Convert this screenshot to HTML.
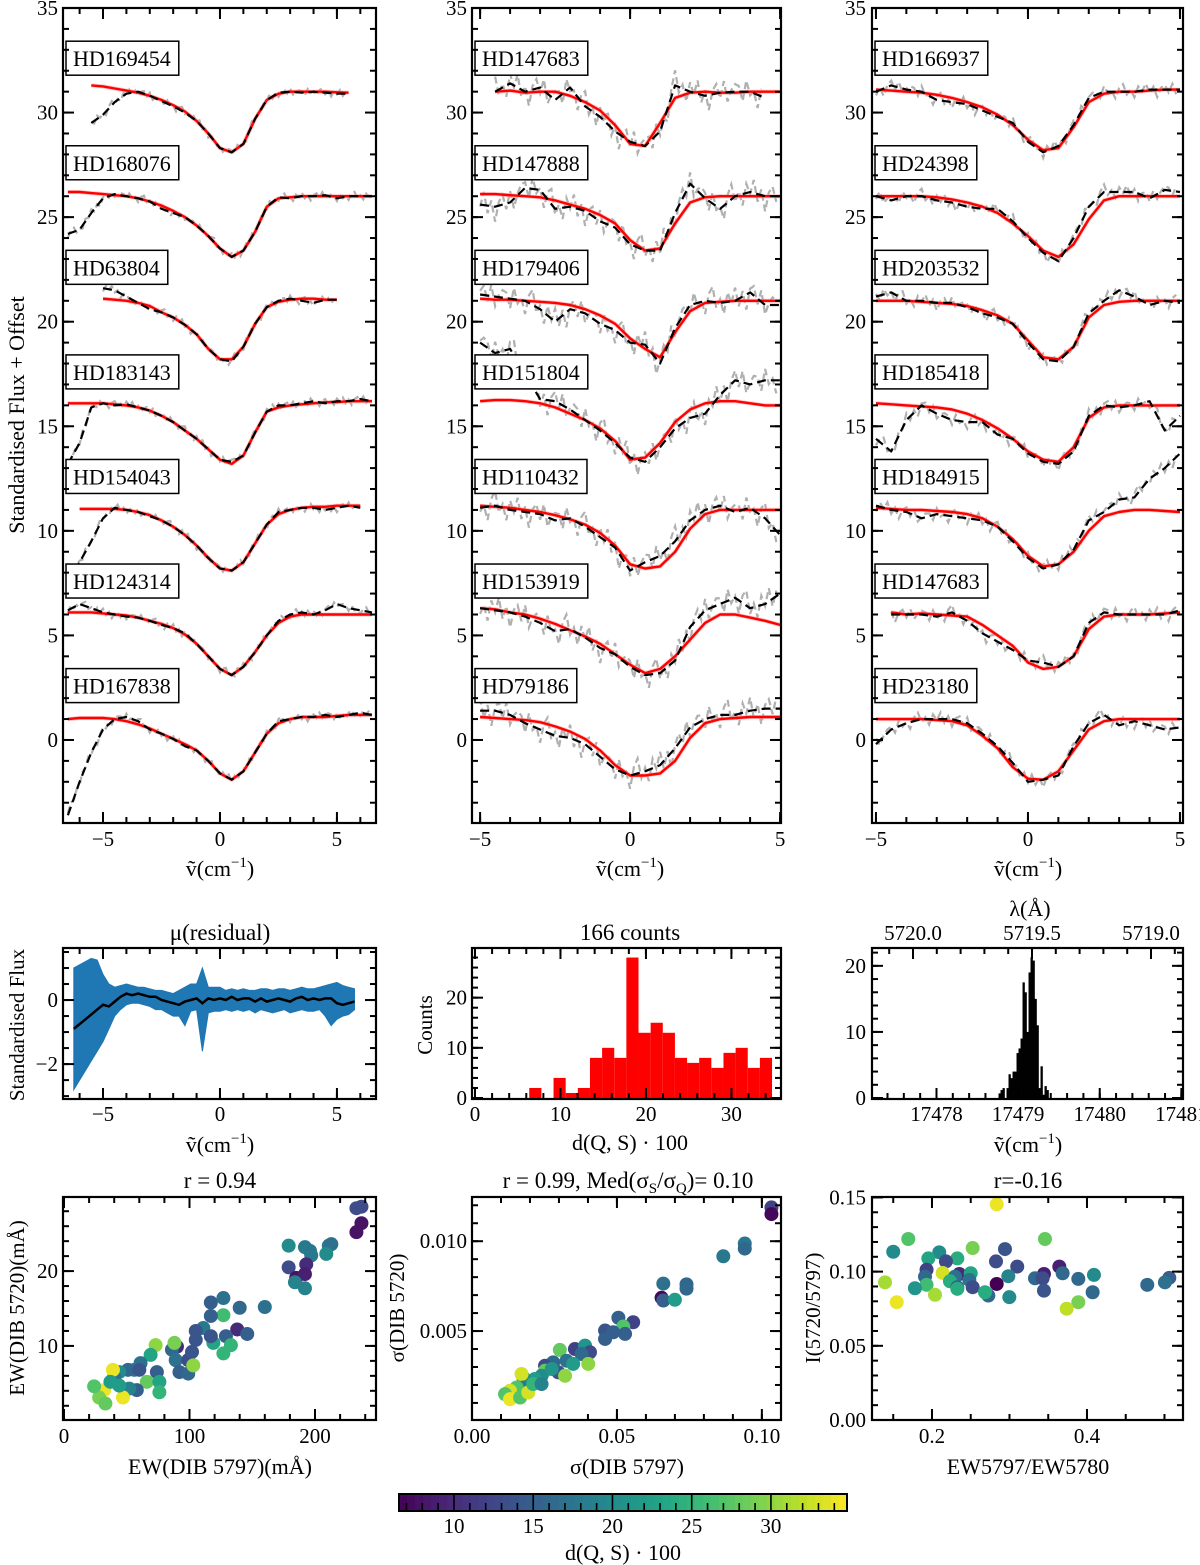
<!DOCTYPE html>
<html><head><meta charset="utf-8"><title>DIB 5720 figure</title>
<style>
html,body{margin:0;padding:0;background:#fff;}
svg{display:block;font-family:"Liberation Serif",serif;}
text{fill:#000;}
</style></head>
<body>
<svg id="fig" width="1200" height="1565" viewBox="0 0 1200 1565">
<rect x="0" y="0" width="1200" height="1565" fill="#fff"/>
<g id="layer"></g>
<text x="24" y="415" font-size="22" text-anchor="middle" transform="rotate(-90 24 415)">Standardised Flux + Offset</text>
<text x="220" y="876" font-size="22" text-anchor="middle">ṽ(cm<tspan font-size="15" dy="-9">−1</tspan><tspan dy="9">)</tspan></text>
<text x="630" y="876" font-size="22" text-anchor="middle">ṽ(cm<tspan font-size="15" dy="-9">−1</tspan><tspan dy="9">)</tspan></text>
<text x="1028" y="876" font-size="22" text-anchor="middle">ṽ(cm<tspan font-size="15" dy="-9">−1</tspan><tspan dy="9">)</tspan></text>
<text x="220" y="940" font-size="23" text-anchor="middle">μ(residual)</text>
<text x="630" y="940" font-size="23" text-anchor="middle">166 counts</text>
<text x="1030" y="916" font-size="22" text-anchor="middle">λ(Å)</text>
<text x="24" y="1025" font-size="21" text-anchor="middle" transform="rotate(-90 24 1025)">Standardised Flux</text>
<text x="432" y="1025" font-size="21" text-anchor="middle" transform="rotate(-90 432 1025)">Counts</text>
<text x="220" y="1152" font-size="22" text-anchor="middle">ṽ(cm<tspan font-size="15" dy="-9">−1</tspan><tspan dy="9">)</tspan></text>
<text x="630" y="1150" font-size="22" text-anchor="middle">d(Q, S) · 100</text>
<text x="1028" y="1152" font-size="22" text-anchor="middle">ṽ(cm<tspan font-size="15" dy="-9">−1</tspan><tspan dy="9">)</tspan></text>
<text x="220" y="1188" font-size="23" text-anchor="middle">r =  0.94</text>
<text x="628" y="1188" font-size="23" text-anchor="middle">r =  0.99, Med(σ<tspan font-size="15" dy="5">S</tspan><tspan dy="-5">/σ</tspan><tspan font-size="15" dy="5">Q</tspan><tspan dy="-5">)= 0.10</tspan></text>
<text x="1028" y="1188" font-size="23" text-anchor="middle">r=-0.16</text>
<text x="24" y="1308" font-size="21" text-anchor="middle" transform="rotate(-90 24 1308)">EW(DIB 5720)(mÅ)</text>
<text x="404" y="1308" font-size="21" text-anchor="middle" transform="rotate(-90 404 1308)">σ(DIB 5720)</text>
<text x="820" y="1308" font-size="21" text-anchor="middle" transform="rotate(-90 820 1308)">I(5720/5797)</text>
<text x="220" y="1474" font-size="22" text-anchor="middle">EW(DIB 5797)(mÅ)</text>
<text x="627" y="1474" font-size="22" text-anchor="middle">σ(DIB 5797)</text>
<text x="1028" y="1474" font-size="22" text-anchor="middle">EW5797/EW5780</text>
<text x="623" y="1560" font-size="22" text-anchor="middle">d(Q, S) · 100</text>
</svg>
<script>
// ===== spectra data (relative to offset) =====
const col1Names = ["HD169454","HD168076","HD63804","HD183143","HD154043","HD124314","HD167838"];
const col2Names = ["HD147683","HD147888","HD179406","HD151804","HD110432","HD153919","HD79186"];
const col3Names = ["HD166937","HD24398","HD203532","HD185418","HD184915","HD147683","HD23180"];
const offsets = [30,25,20,15,10,5,0];
const n = null;
const col1Red = [
[n,n,1.3,1.25,1.15,1.05,.95,.8,.6,.35,.05,-.4,-1.0,-1.7,-1.9,-1.5,-.3,.6,.9,1,1,1,1,.97,.95,n,n],
[1.2,1.2,1.15,1.1,1.05,1.0,.9,.75,.55,.3,0,-.4,-.9,-1.5,-1.9,-1.6,-.7,.5,.9,.95,1,1,1,1,1,1,1],
[n,n,n,1.1,1.05,1.0,.9,.75,.45,.2,-.15,-.6,-1.3,-1.8,-1.8,-1.2,-.1,.7,.95,1.05,1.1,1.1,1.05,1.05,n,n,n],
[1.1,1.1,1.1,1.1,1.05,1.0,.9,.75,.5,.2,-.2,-.6,-1.1,-1.6,-1.8,-1.4,-.3,.7,.9,1.0,1.05,1.1,1.15,1.15,1.2,1.2,1.2],
[n,1.05,1.05,1.05,1.05,1.0,.9,.75,.5,.2,-.2,-.7,-1.3,-1.8,-1.9,-1.5,-.6,.3,.8,1.0,1.1,1.15,1.15,1.2,1.2,1.2,n],
[1.1,1.1,1.1,1.05,1.0,.95,.85,.7,.55,.35,.05,-.4,-1.0,-1.6,-1.9,-1.5,-.8,0,.6,.9,1.0,1.0,1.0,1.0,1.0,1.0,1.0],
[1.0,1.05,1.05,1.05,1.0,.9,.75,.55,.3,.05,-.2,-.5,-1.0,-1.6,-1.9,-1.5,-.6,.3,.8,1.0,1.1,1.1,1.1,1.15,1.2,1.2,1.2]];
const col1Black = [
[n,n,-.5,-.1,.5,.9,1.0,.8,.55,.3,0,-.4,-1.0,-1.7,-1.9,-1.5,-.3,.6,.95,1.0,.95,1.0,.95,.9,.9,n,n],
[-.8,-.6,.2,.9,1.1,1.0,.9,.75,.4,.2,0,-.4,-.9,-1.5,-1.9,-1.6,-.7,.5,.95,.9,1,1,1.05,.9,1,1,1],
[n,n,n,1.6,1.5,1.2,.9,.6,.45,.2,-.15,-.6,-1.3,-1.8,-1.9,-1.2,-.1,.7,1.0,1.1,1.0,.9,1.05,1.05,n,n,n],
[-1.8,-.8,.9,1.1,1.0,1.05,.9,.75,.5,.2,-.2,-.6,-1.1,-1.6,-1.7,-1.4,-.3,.7,1.0,1.0,1.1,1.2,1.1,1.2,1.2,1.3,1.2],
[-2.5,-1.5,-.5,.6,1.1,1.0,.9,.7,.5,.2,-.2,-.7,-1.3,-1.8,-1.9,-1.5,-.6,.3,.9,1.0,1.1,1.1,1.0,1.1,1.2,1.1,n],
[1.2,1.5,1.3,1.1,1.0,.9,.85,.7,.5,.35,.1,-.4,-1.0,-1.6,-1.9,-1.5,-.8,0,.7,1.0,1.1,1.0,1.2,1.5,1.3,1.2,1.1],
[-3.6,-2.0,-.6,.5,1.0,1.1,.9,.5,.3,.05,-.3,-.5,-1.0,-1.6,-1.9,-1.5,-.6,.3,.9,1.0,1.1,1.1,1.2,1.1,1.2,1.3,1.2]];
const col2Red = [
[n,1.0,1.05,.95,1.0,1.0,.8,.5,.1,-.6,-1.5,-1.6,-.5,.7,.95,1.0,.95,.95,1.0,1.0,1.0],
[1.1,1.1,1.05,1.0,.95,.8,.6,.4,.1,-.3,-1.1,-1.6,-1.5,-.3,.7,.95,1.0,1.0,1.0,1.0,1.0],
[1.1,1.05,1.05,1.0,.95,.9,.8,.6,.3,-.1,-.8,-1.3,-1.7,-.5,.5,.9,.95,1.0,1.0,1.0,1.0],
[1.2,1.25,1.25,1.2,1.1,.9,.6,.3,-.1,-.7,-1.6,-1.5,-.8,.2,.8,1.1,1.2,1.2,1.1,1.0,1.0],
[1.2,1.15,1.1,1.0,.9,.75,.55,.3,-.1,-.7,-1.6,-1.8,-1.7,-1.0,.1,.8,1.0,1.0,1.0,1.0,1.0],
[1.3,1.25,1.1,1.0,.8,.55,.25,-.05,-.4,-.9,-1.4,-1.8,-1.6,-1.0,-.2,.6,1.0,1.0,.85,.7,.5],
[1.1,1.05,1.0,.95,.85,.65,.4,.05,-.5,-1.2,-1.7,-1.7,-1.6,-1.0,.1,.8,1.0,1.05,1.1,1.1,1.1]];
const col2Black = [
[n,1.0,1.4,1.0,1.2,.6,1.2,.3,-.2,-.9,-1.4,-1.6,-.9,1.3,1.0,.8,.95,1.0,1.0,.7,n],
[.6,.5,.7,1.4,1.3,.4,.5,.3,-.2,-.5,-1.3,-1.6,-1.6,.2,1.6,.9,.4,1.0,1.2,1.0,1.0],
[1.3,1.2,1.1,1.0,.6,0,.6,.4,-.1,-.4,-1.0,-1.1,-2.0,-.3,.8,1.0,.9,1.0,1.4,.8,.8],
[4,3.5,3.7,2.5,1.3,1.2,.8,.3,-.2,-.8,-1.5,-1.7,-1.0,-.1,.4,.6,1.5,2.2,2.0,2.2,2.2],
[1.1,1.2,1.0,.9,.8,.5,.6,.2,-.3,-.8,-1.9,-1.5,-1.2,-.5,.5,1.0,1.2,.9,1.1,.6,-.2],
[1.3,1.2,1.1,.9,.6,.2,.3,-.1,-.6,-.9,-1.5,-1.9,-1.8,-1.2,.4,1.2,1.5,1.8,1.3,1.5,2.0],
[1.4,1.4,1.2,.8,.5,.2,.1,-.2,-.8,-1.4,-1.7,-1.5,-1.2,-.4,.6,1.0,1.2,1.2,1.4,1.5,1.5]];
const col3Red = [
[1.1,1.05,1.0,.95,.85,.7,.5,.25,-.1,-.6,-1.3,-1.8,-1.7,-.7,.5,.9,1.0,1.0,1.05,1.1,1.1],
[1.0,1.0,1.0,1.0,.95,.85,.7,.5,.2,-.3,-.9,-1.6,-1.9,-1.3,-.1,.8,1.0,1.0,1.0,1.0,1.0],
[1.0,1.0,1.0,.95,.9,.85,.75,.55,.3,-.1,-.9,-1.7,-1.8,-1.2,.2,.8,.95,1.0,1.0,1.0,1.0],
[1.1,1.05,1.0,.95,.9,.8,.6,.3,-.1,-.6,-1.2,-1.6,-1.7,-1.0,.4,.9,1.0,1.0,1.0,1.0,1.0],
[1.1,1.05,1.0,1.0,.95,.9,.8,.6,.2,-.4,-1.2,-1.7,-1.6,-1.0,0,.7,.9,1.0,1.0,.95,.9],
[n,1.1,1.0,1.05,1.0,.95,.9,.5,.0,-.5,-1.3,-1.6,-1.5,-1.0,.3,.9,1.0,1.0,1.0,1.05,1.1],
[1.0,1.0,1.0,1.0,.95,.9,.7,.2,-.4,-1.3,-1.85,-1.9,-1.5,-.5,.5,.9,1.0,1.0,1.0,1.0,1.0]];
const col3Black = [
[1.0,1.3,1.1,1.0,.6,.5,.4,.1,-.2,-.5,-1.4,-1.9,-1.6,-.6,.7,1.0,1.0,1.0,1.1,1.1,1.1],
[1.0,.8,1.0,1.0,.8,.7,.5,.4,.4,-.2,-1.0,-1.7,-2.1,-1.0,.5,1.2,1.2,1.2,.9,1.3,1.2],
[1.2,1.4,1.0,1.0,.9,.9,.7,.4,.2,-.1,-1.0,-1.8,-1.9,-1.2,.4,1.0,1.5,1.2,.8,1.0,.9],
[-.6,-1.2,.3,1.0,.6,.3,.2,.2,-.4,-.6,-1.3,-1.7,-1.8,-1.2,.5,1.0,.9,1.0,1.2,-.2,.5],
[1.2,1.0,.9,.6,.8,.7,.6,.5,.2,-.5,-1.3,-1.8,-1.6,-.9,.5,.9,1.5,1.6,2.5,3.0,3.7],
[n,1.0,1.0,1.0,.9,1.1,.7,.1,-.3,-.7,-1.2,-1.3,-1.5,-1.0,.6,1.1,1.0,1.0,1.0,1.0,1.2],
[-.2,.5,.8,1.0,1.0,1.0,.8,.3,-.3,-1.1,-2.0,-1.9,-1.7,-.3,.8,1.2,.7,.9,.7,.5,.6]];
const grayJitter = [0.3,-0.5,0.6,-0.2,0.1,-0.7,0.4,0.8,-0.3,0.2,-0.6,0.5,-0.1,0.7,-0.4,0.3,-0.8,0.2,0.5,-0.3,0.6,-0.5,0.1,0.4];
// ===== residual data (x from -6.25 step 0.25) =====
const resMean = [-0.9,-0.75,-0.6,-0.45,-0.3,-0.15,-0.2,-0.05,0.1,0.2,0.15,0.2,0.15,0.1,0.1,0.0,-0.05,-0.1,-0.15,-0.05,0.0,0.05,-0.1,0.05,0.0,0.05,0.0,0.1,0.0,0.05,0.05,-0.05,0.05,-0.05,0.0,0.05,0.0,-0.05,0.05,0.1,0.0,0.05,0.0,0.05,0.05,-0.1,-0.15,-0.1,-0.05];
const resUpper = [1.0,1.1,1.2,1.3,1.25,0.8,0.5,0.4,0.45,0.5,0.45,0.4,0.4,0.35,0.3,0.3,0.25,0.2,0.3,0.4,0.5,0.5,1.0,0.4,0.4,0.4,0.3,0.35,0.3,0.35,0.3,0.3,0.35,0.35,0.3,0.35,0.35,0.3,0.35,0.4,0.35,0.35,0.4,0.45,0.5,0.55,0.45,0.4,0.35];
const resLower = [-2.8,-2.5,-2.2,-1.9,-1.6,-1.3,-0.9,-0.5,-0.3,-0.15,-0.1,-0.1,-0.15,-0.2,-0.3,-0.3,-0.4,-0.5,-0.5,-0.8,-0.35,-0.3,-1.6,-0.4,-0.35,-0.35,-0.3,-0.35,-0.3,-0.35,-0.3,-0.4,-0.3,-0.35,-0.4,-0.35,-0.3,-0.4,-0.35,-0.3,-0.35,-0.35,-0.3,-0.5,-0.8,-0.6,-0.5,-0.45,-0.3];
// ===== histogram of d(Q,S) =====
const histStart = 6.35, histWidth = 1.42;
const histCounts = [2,0,4,1,2,8,10,8,28,13,15,13,8,7,8,6,9,10,6,8];
// ===== histogram of peak positions =====
const peakStart = 17478.76, peakWidth = 0.0245;
const peakCounts = [0.7,1.2,1.5,0,1.5,3.6,3,4,4,6.8,7.5,9,17.5,16,10,19,21.3,20.8,15,11,1.5,4.8,0.5,1.8,1.2];
// ===== scatter data =====
const sc1X = [237,233,237,233,179,192,196,197,211,213,209,179,193,185,192,184,192,117,127,140,160,127,117,111,105,138,146,129,119,133,127,105,117,90,86,89,99,102,92,99,103,88,73,69,61,56,51,44,40,39,60,74,66,76,58,52,47,32,28,24,33,44,76,37];
const sc1Y = [28.6,28.4,26.4,25.2,23.4,23.2,22.7,22.1,23.4,23.6,22.3,20.5,20.9,19.1,19.6,18.5,17.7,15.8,16.4,15.1,15.2,14.1,14.0,12.4,12.0,12.2,11.6,11.3,10.4,10.1,9.0,10.8,11.3,9.9,9.5,8.1,8.1,9.2,6.5,6.3,7.4,10.4,10.1,8.8,7.7,6.8,6.8,6.5,5.9,6.8,6.8,6.5,5.2,5.2,4.1,4.3,3.1,4.1,3.1,4.6,2.3,4.7,3.8,5.2];
const sc1C = [13,13,8,8,20,18,18,18,18,17,20,13,10,8,9,19,19,15,17,16,17,26,15,18,14,10,15,15,23,25,25,14,14,10,16,17,13,14,15,16,30,29,30,23,17,18,16,20,17,34,14,15,28,23,15,19,34,34,29,27,28,22,25,22];
const sc2X = [.1033,.1033,.0941,.0941,.0867,.066,.074,.074,.0654,.066,.070,.0505,.0556,.0522,.0459,.0487,.0528,.0459,.0355,.039,.0407,.0303,.0378,.0401,.0326,.0349,.028,.0252,.0298,.0321,.0252,.024,.0217,.0177,.0171,.0177,.0154,.0131,.0114,.0131,.0166,.0194,.0211,.024,.0275];
const sc2Y = [.01188,.01151,.00987,.00959,.00916,.00764,.0076,.00736,.00685,.0067,.00674,.00574,.00549,.00525,.00503,.00493,.00484,.00456,.004,.00419,.00382,.00395,.00372,.00317,.00335,.00317,.00326,.00307,.0027,.00251,.00279,.00251,.00233,.00242,.00261,.00186,.00186,.00168,.00149,.00121,.0013,.00158,.00205,.00205,.00289];
const sc2C = [12,7,18,16,18,17,16,16,7,15,22,15,12,27,14,15,15,15,12,21,13,28,16,30,17,22,16,13,14,30,28,20,22,20,33,18,27,33,27,34,27,33,25,19,21];
const sc3X = [.2835,.1694,.3458,.150,.2094,.2942,.2525,.1953,.2327,.218,.2826,.310,.3643,.193,.2138,.2353,.250,.3445,.3686,.409,.2985,.3329,.3428,.3888,.1394,.191,.2297,.2482,.2232,.2835,.5062,.5006,.4778,.193,.178,.2327,.2327,.2525,.2727,.2684,.2998,.3445,.4073,.2039,.1545,.3888,.3738];
const sc3Y = [.1454,.122,.122,.1134,.113,.1152,.1159,.1089,.1089,.1069,.1069,.1034,.1034,.1013,.0991,.0984,.0989,.0984,.0989,.0978,.0969,.0955,.0955,.0951,.0928,.0966,.0966,.0944,.0935,.0917,.0958,.0928,.0911,.0911,.0888,.0895,.0884,.0895,.0839,.0861,.0828,.0872,.0861,.0844,.0794,.0794,.075];
const sc3C = [34,27,28,20,20,14,29,23,24,13,13,13,9,12,33,10,23,9,16,20,19,16,13,16,31,16,17,17,24,5,15,17,16,26,21,15,24,13,16,24,20,14,16,31,34,29,32];
// ===== colorbar =====
const cbMin = 6.53, cbMax = 34.8;
const cbTicks = [10,15,20,25,30];

const svg = document.getElementById('fig');
const layer = document.getElementById('layer');
const NS = svg.namespaceURI;
function mk(parent, tag, attrs){
  const e = document.createElementNS(NS, tag);
  for (const k in attrs) e.setAttribute(k, attrs[k]);
  parent.appendChild(e);
  return e;
}
function panel(x0,y0,x1,y1,xmin,xmax,ymin,ymax){
  return {x0,y0,x1,y1,xmin,xmax,ymin,ymax,
    sx:v=>x0+(v-xmin)/(xmax-xmin)*(x1-x0),
    sy:v=>y1-(v-ymin)/(ymax-ymin)*(y1-y0)};
}
let clipN = 0;
function clip(p){
  clipN++;
  const cp = mk(layer,'clipPath',{id:'c'+clipN});
  mk(cp,'rect',{x:p.x0,y:p.y0,width:p.x1-p.x0,height:p.y1-p.y0});
  const g = mk(layer,'g',{'clip-path':'url(#c'+clipN+')'});
  
  
  return g;
}
function frame(p){
  const r = mk(layer,'rect',{x:p.x0,y:p.y0,width:p.x1-p.x0,height:p.y1-p.y0,fill:'none',stroke:'#000','stroke-width':2.2});
  
  
}
function fmtNum(v,d){ const s=v.toFixed(d); return s.replace('-','−'); }
function xTicks(p,step,len,top,bottom,labelDec,labelY){
  const i0 = Math.ceil(p.xmin/step-1e-6), i1 = Math.floor(p.xmax/step+1e-6);
  for (let i=i0;i<=i1;i++){
    const v=i*step, x=p.sx(v);
    if (bottom){
      const t = mk(layer,'line',{x1:x,x2:x,y1:p.y1,y2:p.y1-len,stroke:'#000','stroke-width':2});
      
      
    }
    if (top){
      const t2 = mk(layer,'line',{x1:x,x2:x,y1:p.y0,y2:p.y0+len,stroke:'#000','stroke-width':2});
      
      
    }
    if (labelDec!==undefined && labelDec!==null){
      const tx = mk(layer,'text',{x:x,y:labelY,'font-size':21,'text-anchor':'middle'});
      tx.textContent = fmtNum(v,labelDec);
      
      
    }
  }
}
function yTicks(p,step,len,labelDec,labelX){
  const i0 = Math.ceil(p.ymin/step-1e-6), i1 = Math.floor(p.ymax/step+1e-6);
  for (let i=i0;i<=i1;i++){
    const v=i*step, y=p.sy(v);
    const t = mk(layer,'line',{x1:p.x0,x2:p.x0+len,y1:y,y2:y,stroke:'#000','stroke-width':2});
    
    
    const t2 = mk(layer,'line',{x1:p.x1,x2:p.x1-len,y1:y,y2:y,stroke:'#000','stroke-width':2});
    
    
    if (labelDec!==undefined && labelDec!==null){
      const tx = mk(layer,'text',{x:labelX,y:y+7,'font-size':21,'text-anchor':'end'});
      tx.textContent = fmtNum(v,labelDec);
      
      
    }
  }
}
function pathFrom(p, xs, ys){
  let d='', pen=false;
  for (let i=0;i<xs.length;i++){
    if (ys[i]===null){pen=false;continue;}
    d += (pen?'L':'M')+p.sx(xs[i]).toFixed(1)+','+p.sy(ys[i]).toFixed(1);
    pen=true;
  }
  return d;
}
const VIR = ['#440154','#482475','#414487','#355f8d','#2a788e','#21918c','#22a884','#44bf70','#7ad151','#bddf26','#fde725'];
function hex(c){return [1,3,5].map(i=>parseInt(c.substr(i,2),16));}
function viridis(t){
  t=Math.max(0,Math.min(1,t));
  const f=t*10, i=Math.min(9,Math.floor(f)), u=f-i;
  const a=hex(VIR[i]), b=hex(VIR[i+1]);
  return 'rgb('+a.map((v,k)=>Math.round(v+(b[k]-v)*u)).join(',')+')';
}
function cmap(v){ return viridis((v-cbMin)/(cbMax-cbMin)); }

const specPanels = [
  {p:panel(63,8,376,823,-6.71,6.67,-3.97,35), names:col1Names, red:col1Red, black:col1Black, xstart:-6.5, noise:0.25, lx:58},
  {p:panel(472,8,781,823,-5.27,5.03,-3.97,35), names:col2Names, red:col2Red, black:col2Black, xstart:-5, noise:0.9, lx:467},
  {p:panel(872,8,1183,823,-5.13,5.1,-3.97,35), names:col3Names, red:col3Red, black:col3Black, xstart:-5, noise:0.45, lx:866}
];
specPanels.forEach((sp,ci)=>{
  const p=sp.p, g=clip(p);
  sp.names.forEach((nm,k)=>{
    const off=offsets[k];
    const red=sp.red[k], blk=sp.black[k];
    const xs=red.map((_,i)=>sp.xstart+0.5*i);
    const ra=red.map(v=>v===null?null:v+off);
    const ba=blk.map(v=>v===null?null:v+off);
    const gx=[],gy=[];
    let j=0;
    for (let i=0;i<ba.length-1;i++){
      if (ba[i]===null||ba[i+1]===null) continue;
      for (let s=0;s<4;s++){
        const u=s/4;
        gx.push(xs[i]+0.5*u);
        gy.push(ba[i]+(ba[i+1]-ba[i])*u + grayJitter[(j+k*5+ci*7)%grayJitter.length]*sp.noise);
        j++;
      }
    }
    const gp = mk(g,'path',{d:pathFrom(p,gx,gy),fill:'none',stroke:'#b0b0b0','stroke-width':2.2,'stroke-dasharray':'7,4'});
    
    
    const rl = mk(g,'path',{d:pathFrom(p,xs,ra),fill:'none',stroke:'#ff9a9a','stroke-width':4,'stroke-linejoin':'round',opacity:0.6});
    
    
    const rp = mk(g,'path',{d:pathFrom(p,xs,ra),fill:'none',stroke:'#ff0000','stroke-width':2.4,'stroke-linejoin':'round'});
    
    
    const bp = mk(g,'path',{d:pathFrom(p,xs,ba),fill:'none',stroke:'#000','stroke-width':2.2,'stroke-dasharray':'9,5','stroke-linejoin':'round'});
    
    
    const cy=p.sy(off+2.6);
    const tx = mk(layer,'text',{x:p.x0+10,y:cy+8,'font-size':22});
    tx.textContent=nm;
    
    
    const w = tx.getComputedTextLength();
    const bx = mk(layer,'rect',{x:p.x0+3,y:cy-17,width:w+15,height:34,fill:'#fff',stroke:'#000','stroke-width':1.5});
    
    
    layer.insertBefore(bx, tx);
  });
  frame(p);
  xTicks(p,1,6,true,true);
  xTicks(p,5,11,true,true,0,846);
  yTicks(p,1,6);
  yTicks(p,5,11,0,sp.lx);
});

(function(){
  const p=panel(63,948,376,1099,-6.71,6.67,-3.09,1.625), g=clip(p);
  const xs=resMean.map((_,i)=>-6.25+0.25*i);
  let d='M'+xs.map((x,i)=>p.sx(x).toFixed(1)+','+p.sy(resUpper[i]).toFixed(1)).join('L');
  for (let i=xs.length-1;i>=0;i--) d+='L'+p.sx(xs[i]).toFixed(1)+','+p.sy(resLower[i]).toFixed(1);
  const band = mk(g,'path',{d:d+'Z',fill:'#1f77b4',stroke:'#1f77b4','stroke-width':1});
  
  
  const ml = mk(g,'path',{d:pathFrom(p,xs,resMean),fill:'none',stroke:'#000','stroke-width':2.5});
  
  
  frame(p);
  xTicks(p,1,6,true,true);
  xTicks(p,5,11,true,true,0,1121);
  yTicks(p,0.5,6);
  yTicks(p,2,11,0,58);
})();

(function(){
  const p=panel(472,948,781,1099,-0.35,35.8,-0.2,29.9), g=clip(p);
  histCounts.forEach((c,i)=>{
    if (!c) return;
    const xa=histStart+i*histWidth;
    const r = mk(g,'rect',{x:p.sx(xa),y:p.sy(c),width:p.sx(xa+histWidth)-p.sx(xa),height:p.sy(0)-p.sy(c),fill:'#ff0000'});
    
    
  });
  frame(p);
  xTicks(p,2,6,true,true);
  xTicks(p,10,11,true,true,0,1121);
  yTicks(p,2,6);
  yTicks(p,10,11,0,467);
})();

(function(){
  const p=panel(872,948,1183,1099,17477.21,17481.02,-0.15,22.7), g=clip(p);
  peakCounts.forEach((c,i)=>{
    if (!c) return;
    const xa=peakStart+i*peakWidth;
    const r = mk(g,'rect',{x:p.sx(xa),y:p.sy(c),width:p.sx(xa+peakWidth)-p.sx(xa)+0.3,height:p.sy(0)-p.sy(c),fill:'#000'});
    
    
  });
  frame(p);
  xTicks(p,0.2,6,false,true);
  xTicks(p,1,11,false,true,0,1121);
  yTicks(p,2,6);
  yTicks(p,10,11,0,866);
  const lam = v=>913+(5720.0-v)/0.5*(1032-913);
  for (let i=0;i<=25;i++){
    const v=5720.3-0.1*i, x=lam(v);
    if (x<p.x0||x>p.x1) continue;
    const major = Math.abs((v*2)-Math.round(v*2))<1e-6;
    const t = mk(layer,'line',{x1:x,x2:x,y1:p.y0,y2:p.y0+(major?11:6),stroke:'#000','stroke-width':2});
    
    
    if (major){
      const tx = mk(layer,'text',{x:x,y:940,'font-size':21,'text-anchor':'middle'});
      tx.textContent=v.toFixed(1);
      
      
    }
  }
})();

function scatter(p,X,Y,C,name){
  const g=clip(p);
  X.forEach((x,i)=>{
    const c = mk(g,'circle',{cx:p.sx(x),cy:p.sy(Y[i]),r:7,fill:cmap(C[i])});
    
    
  });
  frame(p);
}
(function(){
  const p=panel(63,1197,376,1420,-0.8,248.6,0.1,29.9);
  scatter(p,sc1X,sc1Y,sc1C,'scatter1');
  xTicks(p,20,6,true,true);
  xTicks(p,100,11,true,true,0,1443);
  yTicks(p,2,6);
  yTicks(p,10,11,0,58);
})();
(function(){
  const p=panel(472,1197,781,1420,0,0.1066,0.00005,0.01246);
  scatter(p,sc2X,sc2Y,sc2C,'scatter2');
  xTicks(p,0.01,6,true,true);
  xTicks(p,0.05,11,true,true,2,1443);
  yTicks(p,0.001,6);
  yTicks(p,0.005,11,3,467);
})();
(function(){
  const p=panel(872,1197,1183,1420,0.1226,0.5239,0,0.1503);
  scatter(p,sc3X,sc3Y,sc3C,'scatter3');
  xTicks(p,0.05,6,true,true);
  xTicks(p,0.2,11,true,true,1,1443);
  yTicks(p,0.01,6);
  yTicks(p,0.05,11,2,866);
})();

(function(){
  const x0=399,x1=847,y0=1494,y1=1511;
  const sx=v=>x0+(v-cbMin)/(cbMax-cbMin)*(x1-x0);
  const nb=56;
  for (let i=0;i<nb;i++){
    const a=cbMin+(cbMax-cbMin)*i/nb, b=cbMin+(cbMax-cbMin)*(i+1)/nb;
    const r = mk(layer,'rect',{x:sx(a),y:y0,width:sx(b)-sx(a)+0.6,height:y1-y0,fill:cmap((a+b)/2)});
    
    
  }
  for (let v=7; v<=34; v++){
    const x=sx(v), major=(v%5===0);
    const t = mk(layer,'line',{x1:x,x2:x,y1:y1,y2:y1-(major?17:8),stroke:'#000','stroke-width':1.6});
    
    
  }
  cbTicks.forEach(v=>{
    const tx = mk(layer,'text',{x:sx(v),y:1533,'font-size':21,'text-anchor':'middle'});
    tx.textContent=String(v);
    
    
  });
  const fr = mk(layer,'rect',{x:x0,y:y0,width:x1-x0,height:y1-y0,fill:'none',stroke:'#000','stroke-width':2});
  
  
})();
</script>
</body></html>
